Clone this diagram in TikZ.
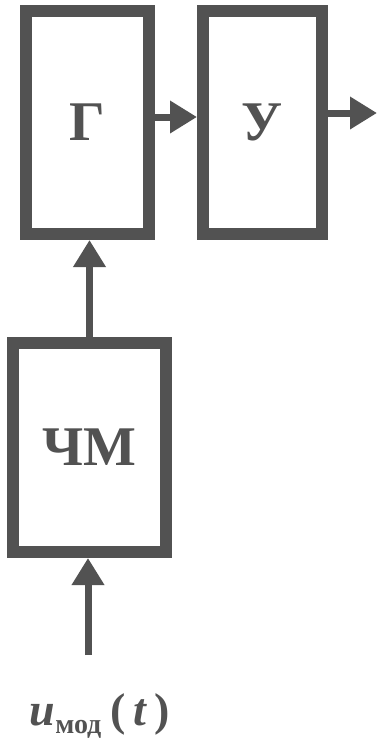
\documentclass[tikz,border=0pt]{standalone}
\usepackage{fontspec}
\setmainfont{Liberation Serif}
\usetikzlibrary{arrows.meta}
\definecolor{ink}{RGB}{82,82,82}
\begin{document}
\begin{tikzpicture}[x=1pt,y=-1pt,
  blockbox/.style={draw=ink,line width=12pt,inner sep=0pt,text=ink,
    font=\fontsize{56}{56}\selectfont\bfseries},
  conn/.style={draw=ink,line width=7pt,-{Triangle[length=27pt,width=31pt]}}]
\useasboundingbox (0,0) rectangle (380,745);
\node[blockbox,minimum width=123pt,minimum height=223pt] (G) at (87.5,122.5) {Г};
\node[blockbox,minimum width=119pt,minimum height=223pt] (U) at (262.5,122.5) {У};
\node[blockbox,minimum width=153pt,minimum height=209pt] (CHM) at (89.5,447.5) {ЧМ};
\coordinate (out) at (377,113);
\coordinate (in) at (88,655);
\node[text=ink,inner sep=0pt] (lbl) at (100,716)
  {\fontsize{46}{46}\selectfont\bfseries\textit{u}\raisebox{-8pt}{\fontsize{28}{28}\selectfont\bfseries мод}\hspace{9pt}(\,\textit{t}\,)};
\draw[conn] ([yshift=5.5pt]G.east) -- ([yshift=5.5pt]U.west);
\draw[conn] ([yshift=9.5pt]U.east) -- (out);
\draw[conn] (CHM.north) -- (CHM.north |- G.south);
\draw[conn] (in) -- (in |- CHM.south);
\end{tikzpicture}
\end{document}
